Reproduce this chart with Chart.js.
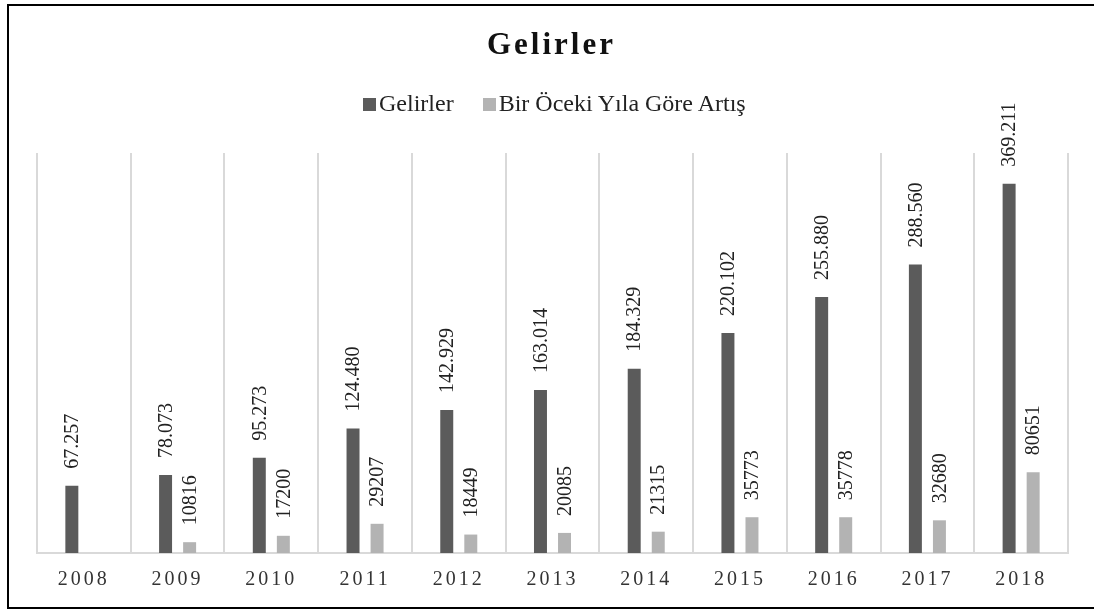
<!DOCTYPE html>
<html>
<head>
<meta charset="utf-8">
<script src="https://cdn.jsdelivr.net/npm/chart.js@4.4.1/dist/chart.umd.min.js"></script>
<style>
  body { margin: 0; background: #fff; }
  #wrap { position: relative; width: 1094px; height: 610px; overflow: hidden; background: #fff; }
  #frame { position: absolute; left: 7px; top: 4px; width: 1200px; height: 601px; border: 2px solid #000; }
  #chart { position: absolute; left: 0; top: 0; }
  #title {
    position: absolute; left: 0; top: 28px; width: 1103px; text-align: center;
    font: bold 31px "Liberation Serif", serif; line-height: 1; letter-spacing: 3px; color: #111;
  }
  #legend {
    position: absolute; left: 363px; top: 91px; display: flex; align-items: baseline;
    font: 24px "Liberation Serif", serif; line-height: 1; color: #222; white-space: nowrap;
  }
  #legend .box { display: inline-block; width: 13px; height: 13px; margin-right: 3px; }
  #legend .item { margin-right: 29px; }
</style>
</head>
<body>
<div id="wrap">
  <div id="frame"></div>
  <canvas id="chart" width="1094" height="610"></canvas>
  <div id="title">Gelirler</div>
  <div id="legend"></div>
</div>
<script>
const years = ["2008", "2009", "2010", "2011", "2012", "2013", "2014", "2015", "2016", "2017", "2018"]
const gelirler = [67257, 78073, 95273, 124480, 142929, 163014, 184329, 220102, 255880, 288560, 369211]
const artis = [null, 10816, 17200, 29207, 18449, 20085, 21315, 35773, 35778, 32680, 80651]
const seriesNames = ["Gelirler", "Bir Öceki Yıla Göre Artış"]
const colors = ["#5b5b5b", "#b3b3b3"]

// legend as plain text next to the canvas
const legendEl = document.getElementById("legend")
seriesNames.forEach((name, i) => {
  const item = document.createElement("span")
  item.className = "item"
  item.innerHTML = `<span class="box" style="background:${colors[i]}"></span>${name}`
  legendEl.appendChild(item)
})

const dotted = v => String(v).replace(/\B(?=(\d{3})+(?!\d))/g, ".")

// spaced-out year labels, then reset before bars/labels
const spacing = {
  id: "spacing",
  beforeDraw(chart) { chart.ctx.letterSpacing = "3px" },
  beforeDatasetsDraw(chart) { chart.ctx.letterSpacing = "0px" }
}

const barLabels = {
  id: "barLabels",
  afterDatasetsDraw(chart) {
    const ctx = chart.ctx
    chart.data.datasets.forEach((ds, di) => {
      const meta = chart.getDatasetMeta(di)
      meta.data.forEach((bar, i) => {
        const v = ds.data[i]
        if (v == null) return
        const txt = di === 0 ? dotted(v) : String(v)
        ctx.save()
        ctx.translate(bar.x, bar.y - 17)
        ctx.rotate(-Math.PI / 2)
        ctx.font = '20px "Liberation Serif", serif'
        ctx.fillStyle = "#222"
        ctx.textAlign = "left"
        ctx.textBaseline = "middle"
        ctx.fillText(txt, 0, 1)
        ctx.restore()
      })
    })
  }
}

new Chart(document.getElementById("chart"), {
  type: "bar",
  data: {
    labels: years,
    datasets: [
      { label: seriesNames[0], data: gelirler, backgroundColor: colors[0] },
      { label: seriesNames[1], data: artis, backgroundColor: colors[1] }
    ]
  },
  options: {
    responsive: false,
    animation: false,
    devicePixelRatio: 1,
    categoryPercentage: 0.513,
    barPercentage: 0.54,
    layout: { padding: { left: 37, right: 26, top: 153, bottom: 17 } },
    plugins: {
      legend: { display: false },
      tooltip: { enabled: false }
    },
    scales: {
      x: {
        grid: { color: "#d9d9d9", lineWidth: 2, drawTicks: false, offset: true },
        border: { color: "#d9d9d9", width: 2 },
        ticks: {
          color: "#333",
          padding: 15,
          maxRotation: 0,
          font: { family: '"Liberation Serif", serif', size: 20 }
        },
        afterFit(scale) { scale.height = 40 }
      },
      y: {
        display: false,
        min: 0,
        max: 400000
      }
    }
  },
  plugins: [spacing, barLabels]
})
</script>
</body>
</html>
